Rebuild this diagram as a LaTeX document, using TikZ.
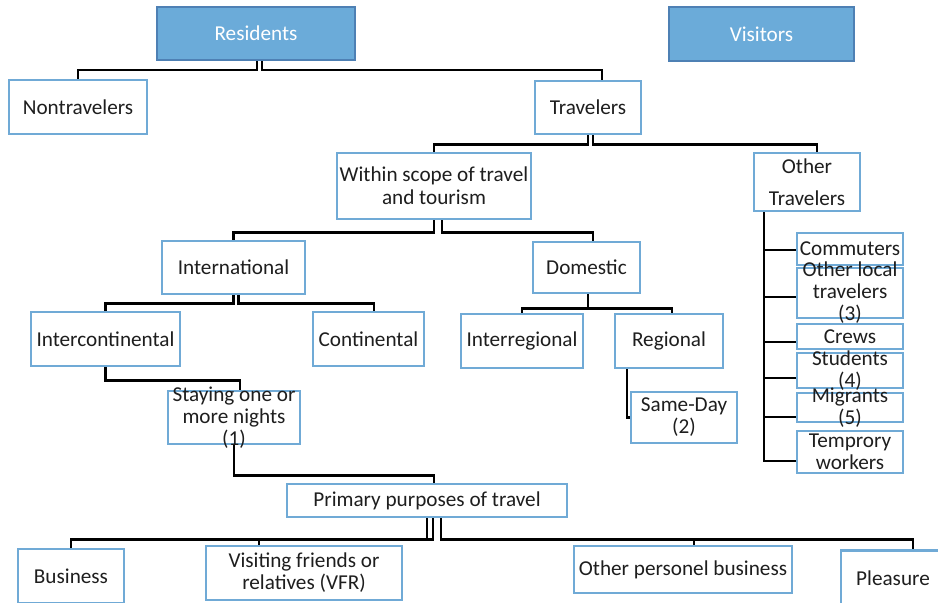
\documentclass[tikz,border=0pt]{standalone}
\usepackage{fontspec}
\setmainfont{Carlito}
\usetikzlibrary{positioning}

\definecolor{hdrfill}{RGB}{107,171,217}
\definecolor{hdrline}{RGB}{78,128,180}
\definecolor{boxline}{RGB}{112,170,214}
\definecolor{txt}{RGB}{30,30,30}

\tikzset{
  boxsize/.style 2 args={minimum width=#1pt, minimum height=#2pt},
  tbox/.style={draw=boxline, line width=2.8pt, fill=white, text=txt, inner sep=0pt, align=center},
  hdr/.style={draw=hdrline, line width=2pt, fill=hdrfill, text=white, inner sep=0pt},
  link/.style={draw=black, line width=2.3pt},
  every label/.style={align=center, text=txt, inner sep=0pt}
}

\begin{document}
\begin{tikzpicture}[x=1pt, y=-1pt, font=\fontsize{21.2}{22}\selectfont]
  \useasboundingbox (0,0) rectangle (938,603);

  % top row
  \node[hdr, boxsize={198}{53}] (res) at (256,33.5) {Residents};
  \node[hdr, boxsize={185}{54}] (vis) at (761.5,34) {Visitors};

  \node[tbox, boxsize={138}{54}] (nontrav) at (78,107) {Nontravelers};
  \node[tbox, boxsize={106}{53}] (trav) at (588,107.5) {Travelers};

  \node[tbox, boxsize={194}{66}] (scope) at (434,186) {Within scope of travel\\[1pt]and tourism};
  \node[tbox, boxsize={106}{58}] (other) at (807,182) {Other\\[10pt]Travelers};

  \node[tbox, boxsize={143}{53}] (intl) at (233.5,267.5) {International};
  \node[tbox, boxsize={107}{51}] (dom) at (586.5,267.5) {Domestic};

  \node[tbox, boxsize={149}{54}] (interc) at (105.5,339) {Intercontinental};
  \node[tbox, boxsize={111}{54}] (cont) at (368.5,339) {Continental};
  \node[tbox, boxsize={122}{54}] (interr) at (522,341) {Interregional};
  \node[tbox, boxsize={108}{54}] (reg) at (669,341) {Regional};

  \node[tbox, boxsize={132}{53}, label={center:Staying one or\\more nights\\(1)}] (stay) at (234,417.5) {};
  \node[tbox, boxsize={106}{51}] (same) at (684,417.5) {Same-Day\\(2)};

  % other travelers column
  \node[tbox, boxsize={106}{32}] (comm) at (850,249) {Commuters};
  \node[tbox, boxsize={106}{50}, label={center:Other local\\travelers\\(3)}] (olt) at (850,293) {};
  \node[tbox, boxsize={106}{25}] (crews) at (850,336.5) {Crews};
  \node[tbox, boxsize={106}{35}, label={center:Students\\(4)}] (stud) at (850,370.5) {};
  \node[tbox, boxsize={106}{29}, label={center:Migrants\\(5)}] (migr) at (850,407.5) {};
  \node[tbox, boxsize={106}{42}] (temp) at (850,452) {Temprory\\workers};

  % purposes
  \node[tbox, boxsize={280}{33}] (prim) at (427,500.5) {Primary purposes of travel};
  \node[tbox, boxsize={106}{54}] (bus) at (71,576) {Business};
  \node[tbox, boxsize={196}{54}] (vfr) at (304,573) {Visiting friends or\\relatives (VFR)};
  \node[tbox, boxsize={218}{47}] (opb) at (683,569.5) {Other personel business};
  \node[tbox, boxsize={104}{55}] (pleas) at (893,578) {Pleasure};

  % connectors
  \draw[link] ([xshift=1pt]res.south) -- ++(0,9) -| (nontrav.north);
  \draw[link] ([xshift=6pt]res.south) -- ++(0,9) -| ([xshift=14pt]trav.north);
  \draw[link] (trav.south) -- ++(0,9) -| (scope.north);
  \draw[link] ([xshift=5pt]trav.south) -- ++(0,9) -| ([xshift=10pt]other.north);
  \draw[link] (scope.south) -- ++(0,12) -| (intl.north);
  \draw[link] ([xshift=8pt]scope.south) -- ++(0,12) -| ([xshift=6.5pt]dom.north);
  \draw[link] (intl.south) -- ++(0,8) -| (interc.north);
  \draw[link] ([xshift=5pt]intl.south) -- ++(0,8) -| ([xshift=5.5pt]cont.north);
  \draw[link] ([xshift=1.5pt]dom.south) -- ++(0,14) -| (interr.north);
  \draw[link] ([xshift=1.5pt]dom.south) -- ++(0,14) -| ([xshift=3pt]reg.north);
  \draw[link] (interc.south) -- ++(0,13) -| ([xshift=6pt]stay.north);
  \draw[link] ([xshift=-42pt]reg.south) |- (same.west);
  \draw[link] (stay.south) -- ++(0,30) -| ([xshift=7pt]prim.north);
  \draw[link] (prim.south) -- ++(0,21) -| (bus.north);
  \draw[link] ([xshift=6pt]prim.south) -- ++(0,21) -| ([xshift=-45pt]vfr.north);
  \draw[link] ([xshift=14pt]prim.south) -- ++(0,21) -| ([xshift=11pt]opb.north);
  \draw[link] ([xshift=14pt]prim.south) -- ++(0,21) -| ([xshift=20pt]pleas.north);
  \foreach \n/\dy in {comm/-1, olt/-4, crews/-5.5, stud/-7.5, migr/-9.5, temp/-9}
    \draw[link] ([xshift=-43pt]other.south) |- ([yshift=\dy pt]\n.west);
\end{tikzpicture}
\end{document}
